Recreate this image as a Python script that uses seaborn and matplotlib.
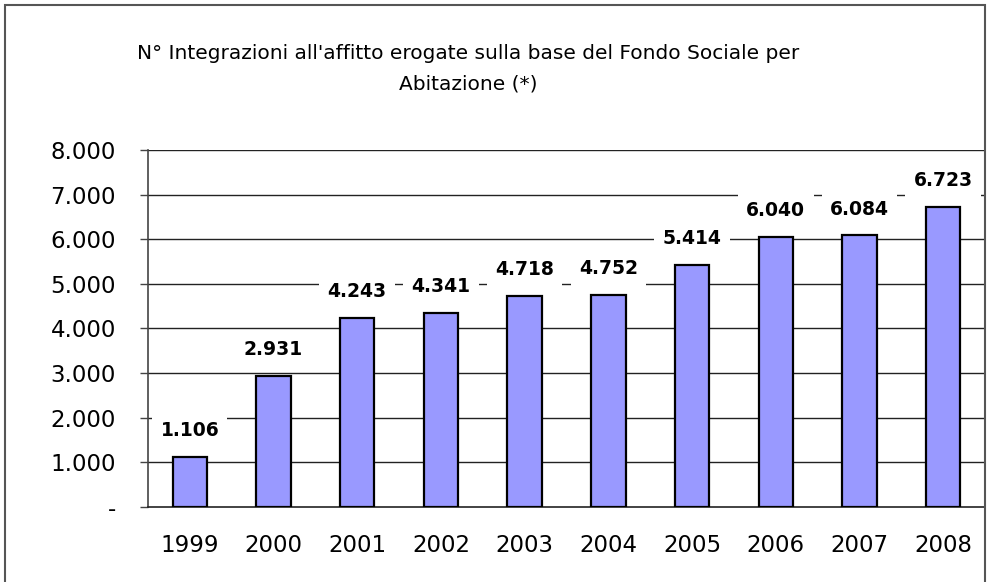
import matplotlib
matplotlib.use("Agg")
import matplotlib.pyplot as plt
import matplotlib.patches as mpatches
import seaborn as sns
import pandas as pd

# --- data ---
years = ["1999", "2000", "2001", "2002", "2003", "2004", "2005", "2006", "2007", "2008"]
integrazioni = [1106, 2931, 4243, 4341, 4718, 4752, 5414, 6040, 6084, 6723]
y_ticks = [0, 1000, 2000, 3000, 4000, 5000, 6000, 7000, 8000]

title = "N° Integrazioni all'affitto erogate sulla base del Fondo Sociale per\nAbitazione (*)"


def fmt_it(v):
    # Italian thousands separator, "-" for zero like Excel accounting format
    if v == 0:
        return "-"
    return f"{v:,.0f}".replace(",", ".")


df = pd.DataFrame({"anno": years, "valore": integrazioni})

sns.set_style("white")
plt.rcParams["font.family"] = ["DejaVu Sans"]
plt.rcParams["text.color"] = "black"
plt.rcParams["xtick.color"] = "black"
plt.rcParams["ytick.color"] = "black"

fig = plt.figure(figsize=(10, 5.82), dpi=100)
ax = fig.add_axes([0.148, 0.1294, 0.837, 0.6129])

sns.barplot(data=df, x="anno", y="valore", color="#9999FF", width=0.41,
            edgecolor="black", linewidth=1.6, saturation=1, ax=ax, zorder=3)

ax.set_ylim(0, 8000)
ax.set_xlim(-0.5, len(years) - 0.5)
ax.set_yticks(y_ticks)
ax.set_yticklabels([fmt_it(v) for v in y_ticks])
ax.set_xlabel("")
ax.set_ylabel("")

# gridlines
for v in y_ticks[1:]:
    ax.axhline(v, color="#222222", linewidth=1.0, zorder=1)

# spines
for s in ["top", "right"]:
    ax.spines[s].set_visible(False)
ax.spines["left"].set_color("#444444")
ax.spines["left"].set_linewidth(1.2)
ax.spines["bottom"].set_color("#222222")
ax.spines["bottom"].set_linewidth(1.2)

# ticks
ax.tick_params(axis="y", direction="out", length=6, width=1, color="#444444",
               labelsize=16.5, pad=17, left=True, labelcolor="black")
ax.set_xticks([i - 0.5 for i in range(len(years) + 1)], minor=True)
ax.tick_params(axis="x", which="minor", direction="out", length=6, width=1, color="#444444")
ax.tick_params(axis="x", which="major", length=0, labelsize=16.5, pad=20, labelcolor="black")

# value labels with white box cutting the gridlines
for i, v in enumerate(integrazioni):
    ax.annotate(fmt_it(v), xy=(i, v), xytext=(0, 19), textcoords="offset points",
                ha="center", va="center", fontsize=13.5, fontweight="bold", color="black",
                bbox=dict(facecolor="white", edgecolor="none", pad=6), zorder=4)

fig.text(0.468, 0.882, title, ha="center", va="center", fontsize=14.5,
         linespacing=1.75, color="black")

# chart border
fig.patches.append(mpatches.Rectangle((0.005, -0.01), 0.98, 1 - 0.008 + 0.01,
                                      transform=fig.transFigure, fill=False,
                                      edgecolor="#555555", linewidth=1.5))

fig.savefig("out.png", dpi=100)
